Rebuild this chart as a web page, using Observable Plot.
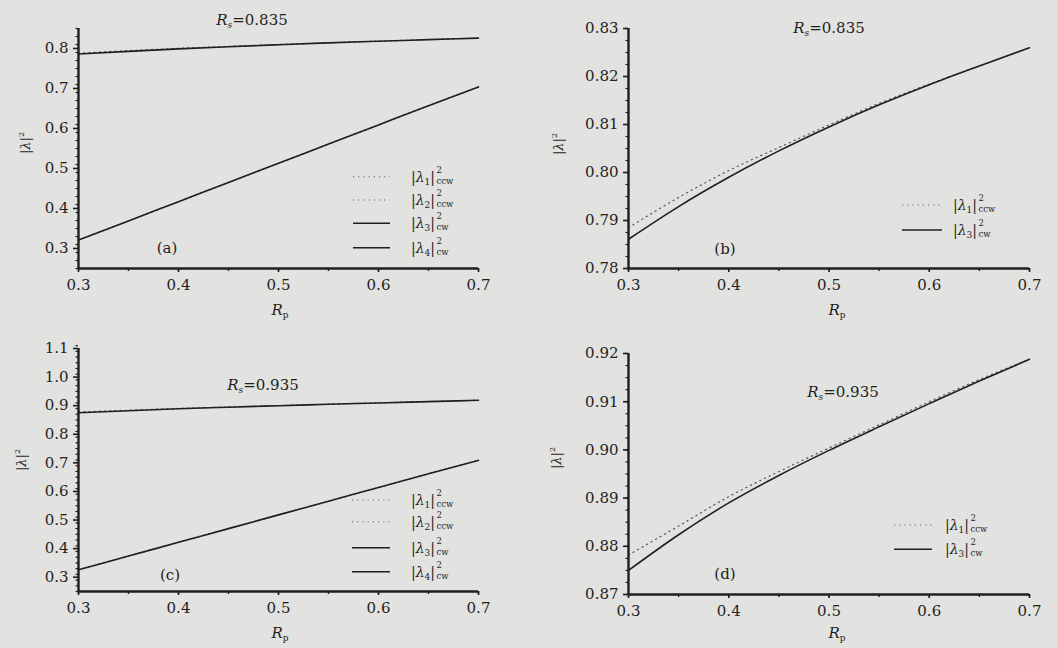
<!DOCTYPE html>
<html>
<head>
<meta charset="utf-8">
<script src="https://cdn.jsdelivr.net/npm/d3@7"></script>
<script src="https://cdn.jsdelivr.net/npm/@observablehq/plot@0.6"></script>
<style>
  html, body { margin: 0; padding: 0; background: #e2e2e0; }
  #wrap { position: relative; width: 1057px; height: 648px; overflow: hidden; background: #e2e2e0; }
  #wrap svg { position: absolute; overflow: visible; }
</style>
</head>
<body>
<div id="wrap"></div>
<script>
// ---- data ----
const Rp = [0.30, 0.35, 0.40, 0.45, 0.50, 0.55, 0.60, 0.65, 0.70];
// Rs = 0.835
const ccw1_835 = [0.7885, 0.7948, 0.8004, 0.8052, 0.8099, 0.8144, 0.8184, 0.8222, 0.8260];
const ccw2_835 = [0.321, 0.369, 0.417, 0.465, 0.513, 0.561, 0.609, 0.657, 0.704];
const cw3_835  = [0.7861, 0.7929, 0.7990, 0.8045, 0.8095, 0.8141, 0.8183, 0.8222, 0.8260];
const cw4_835  = [0.321, 0.369, 0.417, 0.465, 0.513, 0.561, 0.609, 0.657, 0.704];
// Rs = 0.935
const ccw1_935 = [0.8782, 0.8842, 0.8903, 0.8955, 0.9004, 0.9052, 0.9100, 0.9146, 0.9188];
const ccw2_935 = [0.326, 0.374, 0.422, 0.470, 0.518, 0.566, 0.614, 0.662, 0.709];
const cw3_935  = [0.8750, 0.8824, 0.8890, 0.8947, 0.8999, 0.9048, 0.9096, 0.9143, 0.9188];
const cw4_935  = [0.326, 0.374, 0.422, 0.470, 0.518, 0.566, 0.614, 0.662, 0.709];

// tick labels
const xTicks = [0.3, 0.4, 0.5, 0.6, 0.7];
const yTicksA = [0.3, 0.4, 0.5, 0.6, 0.7, 0.8];
const yTicksB = [0.78, 0.79, 0.80, 0.81, 0.82, 0.83];
const yTicksC = [0.3, 0.4, 0.5, 0.6, 0.7, 0.8, 0.9, 1.0, 1.1];
const yTicksD = [0.87, 0.88, 0.89, 0.90, 0.91, 0.92];
const panelLabels = ["(a)", "(b)", "(c)", "(d)"];
const titles = ["0.835", "0.835", "0.935", "0.935"];

const INK = "#1f1f1f";
const FONT = "'DejaVu Serif', 'Liberation Serif', serif";

function series(name, ys, dotted) {
  return Rp.map((x, i) => ({ x, y: ys[i], name, dotted }));
}
function minor(a, b, step) {
  const n = Math.round((b - a) / step);
  return d3.range(n + 1).map(i => +(a + i * step).toFixed(5));
}

function rich(svg, x, y, parts, opts = {}) {
  const t = svg.append("text")
    .attr("x", x).attr("y", y)
    .attr("fill", INK)
    .attr("font-family", FONT)
    .attr("font-size", opts.size || 15)
    .attr("text-anchor", opts.anchor || "start");
  if (opts.rotate) t.attr("transform", `rotate(${opts.rotate},${x},${y})`);
  let shift = 0;
  for (const p of parts) {
    const s = t.append("tspan").text(p.t);
    if (p.it) s.attr("font-style", "italic");
    if (p.size) s.attr("font-size", p.size);
    const target = p.dy || 0;
    if (target !== shift) { s.attr("dy", target - shift); shift = target; }
  }
  return t;
}

function legendItem(svg, lx1, lx2, tx, y, idx, dir, dotted) {
  svg.append("line")
    .attr("x1", lx1).attr("x2", lx2).attr("y1", y).attr("y2", y)
    .attr("stroke", dotted ? "#666" : INK)
    .attr("stroke-width", dotted ? 1.1 : 1.6)
    .attr("stroke-dasharray", dotted ? "1.2,4" : null);
  const t = rich(svg, tx, y + 5, [
    { t: "|" }, { t: "λ", it: true }, { t: String(idx), size: 9, dy: 3 }, { t: "|", dy: 0 }
  ], { size: 14 });
  const w = t.node().getComputedTextLength();
  rich(svg, tx + w + 1.5, y - 4, [{ t: "2" }], { size: 8.5 });
  rich(svg, tx + w + 1.5, y + 7, [{ t: dir }], { size: 8.5 });
}

function panel(cfg) {
  const data = cfg.lines.flatMap(l => series(l.name, l.ys, l.dotted));
  const [y0, y1] = cfg.yDomain;
  const p = Plot.plot({
    width: cfg.width, height: cfg.height,
    marginLeft: cfg.ml, marginRight: cfg.mr, marginTop: cfg.mt, marginBottom: cfg.mb,
    x: { domain: [0.3, 0.7] },
    y: { domain: [y0, y1] },
    style: { background: "transparent", fontFamily: FONT, fontSize: "15px", color: INK, overflow: "visible" },
    marks: [
      Plot.line(data.filter(d => d.dotted), { x: "x", y: "y", z: "name", stroke: "#555", strokeWidth: 1.2, strokeDasharray: "1.2,4", curve: "monotone-x" }),
      Plot.line(data.filter(d => !d.dotted), { x: "x", y: "y", z: "name", stroke: INK, strokeWidth: 1.6, curve: "monotone-x" }),
      Plot.axisX(minor(0.3, 0.7, 0.05), { tickSize: 3, tickFormat: () => "", label: null, stroke: INK, strokeWidth: 1.4 }),
      Plot.axisX(xTicks, { tickSize: 4, tickPadding: 7, tickFormat: d => d.toFixed(1), label: null, stroke: INK, strokeWidth: 1.6, fill: INK }),
      Plot.axisY(minor(y0, y1, cfg.yMinor), { tickSize: 2.5, tickFormat: () => "", label: null, stroke: INK, strokeWidth: 1.2 }),
      Plot.axisY(cfg.yTicks, { tickSize: 5, tickPadding: 5, tickFormat: d => d.toFixed(cfg.dec), label: null, stroke: INK, strokeWidth: 1.6, fill: INK }),
      Plot.ruleX([0.3], { stroke: INK, strokeWidth: 2.4 }),
      Plot.ruleY([y0], { stroke: INK, strokeWidth: 2.4 })
    ]
  });
  p.style.left = cfg.left + "px";
  p.style.top = cfg.top + "px";
  document.getElementById("wrap").appendChild(p);
  const svg = d3.select(p);
  // title
  rich(svg, cfg.title[0], cfg.title[1] + 5, [
    { t: "R", it: true }, { t: "s", it: true, size: 9, dy: 3 }, { t: "=" + cfg.titleText, dy: 0 }
  ], { anchor: "middle", size: 15 });
  // panel label
  rich(svg, cfg.plabel[0], cfg.plabel[1] + 5, [{ t: cfg.plabelText }], { anchor: "middle", size: 15 });
  // x label
  rich(svg, cfg.xlab[0], cfg.xlab[1], [
    { t: "R", it: true }, { t: "p", size: 9, dy: 3 }
  ], { anchor: "middle", size: 15 });
  // y label
  rich(svg, cfg.ylab[0] + 5, cfg.ylab[1], [
    { t: "|" }, { t: "λ", it: true }, { t: "|" }, { t: "2", size: 8, dy: -6 }
  ], { anchor: "middle", size: 13, rotate: -90 });
  // legend
  cfg.legend.items.forEach((it, i) => {
    legendItem(svg, cfg.legend.lx1, cfg.legend.lx2, cfg.legend.tx, cfg.legend.ys[i], it[0], it[1], it[2]);
  });
}

panel({
  left: 0, top: 0, width: 528, height: 320, ml: 78, mr: 50, mt: 28, mb: 52,
  yDomain: [0.25, 0.85], yTicks: yTicksA, yMinor: 0.02, dec: 1,
  lines: [
    { name: "l1", ys: ccw1_835, dotted: true },
    { name: "l2", ys: ccw2_835, dotted: true },
    { name: "l3", ys: cw3_835, dotted: false },
    { name: "l4", ys: cw4_835, dotted: false }
  ],
  title: [252, 20], titleText: titles[0],
  plabel: [167, 248], plabelText: panelLabels[0],
  xlab: [280, 315], ylab: [25, 143],
  legend: { lx1: 353, lx2: 390, tx: 411, ys: [176.7, 200, 223.3, 247.7],
    items: [[1, "ccw", true], [2, "ccw", true], [3, "cw", false], [4, "cw", false]] }
});

panel({
  left: 527, top: 0, width: 530, height: 320, ml: 101, mr: 28, mt: 28, mb: 52,
  yDomain: [0.78, 0.83], yTicks: yTicksB, yMinor: 0.0025, dec: 2,
  lines: [
    { name: "l1", ys: ccw1_835, dotted: true },
    { name: "l3", ys: cw3_835, dotted: false }
  ],
  title: [302, 28], titleText: titles[1],
  plabel: [198, 249], plabelText: panelLabels[1],
  xlab: [310, 315], ylab: [31, 144],
  legend: { lx1: 375, lx2: 415, tx: 426, ys: [205, 230],
    items: [[1, "ccw", true], [3, "cw", false]] }
});

panel({
  left: 0, top: 320, width: 528, height: 328, ml: 78, mr: 50, mt: 28, mb: 57,
  yDomain: [0.25, 1.1], yTicks: yTicksC, yMinor: 0.02, dec: 1,
  lines: [
    { name: "l1", ys: ccw1_935, dotted: true },
    { name: "l2", ys: ccw2_935, dotted: true },
    { name: "l3", ys: cw3_935, dotted: false },
    { name: "l4", ys: cw4_935, dotted: false }
  ],
  title: [263, 65], titleText: titles[2],
  plabel: [170, 255], plabelText: panelLabels[2],
  xlab: [280, 318], ylab: [21, 140],
  legend: { lx1: 352, lx2: 390, tx: 411, ys: [180, 201.7, 227.7, 251.7],
    items: [[1, "ccw", true], [2, "ccw", true], [3, "cw", false], [4, "cw", false]] }
});

panel({
  left: 527, top: 320, width: 530, height: 328, ml: 101, mr: 28, mt: 33, mb: 54,
  yDomain: [0.87, 0.92], yTicks: yTicksD, yMinor: 0.0025, dec: 2,
  lines: [
    { name: "l1", ys: ccw1_935, dotted: true },
    { name: "l3", ys: cw3_935, dotted: false }
  ],
  title: [316, 72], titleText: titles[3],
  plabel: [198, 254], plabelText: panelLabels[3],
  xlab: [310, 318], ylab: [29, 138],
  legend: { lx1: 367, lx2: 405, tx: 418, ys: [205, 229.3],
    items: [[1, "ccw", true], [3, "cw", false]] }
});
</script>
</body>
</html>
